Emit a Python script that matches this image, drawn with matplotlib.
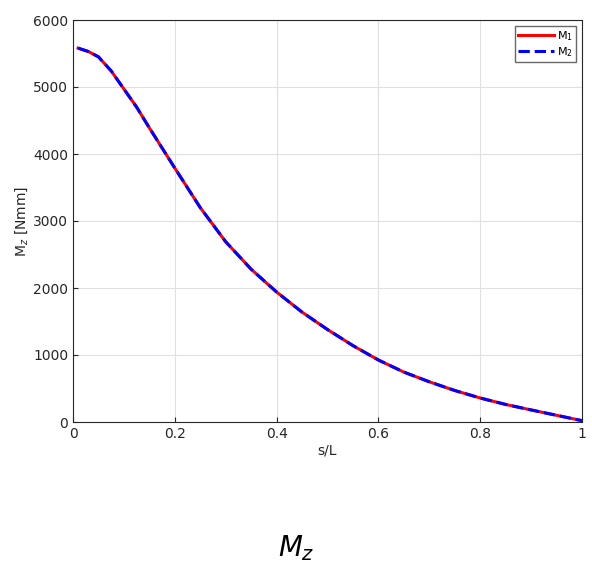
import matplotlib
matplotlib.use("Agg")
import matplotlib.pyplot as plt
import numpy as np

s = [0.01, 0.03, 0.05, 0.075, 0.1, 0.125, 0.15, 0.2, 0.25, 0.3, 0.35, 0.4, 0.45, 0.5, 0.55, 0.6, 0.65, 0.7, 0.75, 0.8, 0.85, 0.9, 0.95, 1.0]
m = [5580, 5530, 5450, 5240, 4970, 4700, 4390, 3790, 3200, 2690, 2280, 1940, 1640, 1380, 1140, 925, 745, 600, 470, 358, 262, 180, 100, 20]

fig = plt.figure(figsize=(5.92, 5.78), dpi=100)
ax = fig.add_axes([73/592, 1-422/578, (582-73)/592, (422-20)/578])
ax.plot(s, m, color='red', lw=2.2, label='M$_1$')
ax.plot(s, m, color='blue', lw=2.2, ls='--', label='M$_2$')
ax.set_xlim(0, 1)
ax.set_ylim(0, 6000)
ax.set_xticks([0, 0.2, 0.4, 0.6, 0.8, 1])
ax.set_xticklabels(['0', '0.2', '0.4', '0.6', '0.8', '1'])
ax.grid(True, color='#e0e0e0', lw=0.8)
ax.tick_params(labelsize=10, direction='in', colors='#262626')
for sp in ax.spines.values():
    sp.set_color('#262626')
ax.set_xlabel('s/L', fontsize=10, labelpad=2, color='#262626')
ax.set_ylabel('M$_z$ [Nmm]', fontsize=10, labelpad=2, color='#262626')
ax.legend(loc='upper right', fontsize=8, fancybox=False, edgecolor='#444444',
          handlelength=3.2, borderpad=0.3, labelspacing=0.2, handletextpad=0.3)
fig.text(0.5, 1-548/578, '$M_z$', fontsize=20, ha='center', va='center')
fig.savefig('out.png', dpi=100)
